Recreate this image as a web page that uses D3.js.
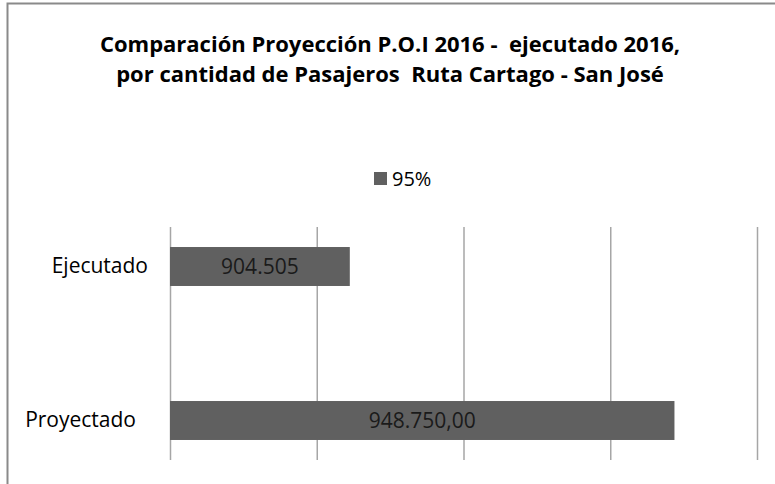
<!DOCTYPE html>
<html lang="es">
<head>
    <meta charset="UTF-8">
    <title>Comparación Proyección P.O.I 2016</title>
    <style>
        body {
            margin: 0;
            background: #ffffff;
            font-family: "Open Sans", sans-serif;
        }
    </style>
</head>
<body>
    <svg id="chart" width="775" height="484"></svg>
    <script src="https://d3js.org/d3.v7.min.js"></script>
    <script>
        // data
        const categories = ["Ejecutado", "Proyectado"];
        const values = [904505, 948750];
        const valueLabels = ["904.505", "948.750,00"];
        const seriesName = "95%";
        const titleLines = [
            "Comparación Proyección P.O.I 2016 -  ejecutado 2016,",
            "por cantidad de Pasajeros  Ruta Cartago - San José"
        ];
        const xTicks = [880000, 900000, 920000, 940000, 960000];

        const svg = d3.select("#chart");
        const width = 775, height = 484;
        const plot = { left: 170, right: 757, top: 227, bottom: 460 };
        const font = "'Open Sans', sans-serif";

        // chart border (box runs past right & bottom of picture)
        svg.append("rect")
            .attr("x", 7.5).attr("y", 3.5)
            .attr("width", width + 20).attr("height", height + 20)
            .attr("fill", "none")
            .attr("stroke", "#8a8a8a")
            .attr("stroke-width", 2);

        // title
        svg.append("g").selectAll("text")
            .data(titleLines)
            .join("text")
            .attr("x", 390)
            .attr("y", (d, i) => 52 + i * 30)
            .attr("text-anchor", "middle")
            .attr("font-size", 22)
            .attr("font-weight", "bold")
            .attr("font-family", font)
            .attr("fill", "#000")
            .style("white-space", "pre")
            .text(d => d);

        // legend
        const legend = svg.append("g").attr("transform", "translate(374,172)");
        legend.append("rect")
            .attr("width", 13).attr("height", 13)
            .attr("fill", "#606060");
        legend.append("text")
            .attr("x", 18).attr("y", 13.5)
            .attr("font-size", 20)
            .attr("font-family", font)
            .attr("fill", "#000")
            .text(seriesName);

        const x = d3.scaleLinear()
            .domain([xTicks[0], xTicks[xTicks.length - 1]])
            .range([plot.left, plot.right]);

        const y = d3.scaleBand()
            .domain(categories)
            .range([plot.top, plot.bottom])
            .paddingInner(0.747)
            .paddingOuter(0.13);

        // vertical gridlines
        svg.append("g")
            .attr("transform", `translate(0,${plot.bottom})`)
            .call(d3.axisBottom(x).tickValues(xTicks).tickSize(-(plot.bottom - plot.top)).tickFormat(""))
            .call(g => g.select(".domain").remove())
            .call(g => g.selectAll(".tick line").attr("stroke", "#a6a6a6").attr("stroke-width", 1.5));

        // bars
        const data = categories.map((c, i) => ({ cat: c, value: values[i], label: valueLabels[i] }));

        svg.append("g").selectAll("rect")
            .data(data)
            .join("rect")
            .attr("x", x(xTicks[0]))
            .attr("y", d => y(d.cat))
            .attr("width", d => x(d.value) - x(xTicks[0]))
            .attr("height", y.bandwidth())
            .attr("fill", "#606060");

        // value labels
        svg.append("g").selectAll("text")
            .data(data)
            .join("text")
            .attr("x", d => (x(xTicks[0]) + x(d.value)) / 2)
            .attr("y", d => y(d.cat) + y.bandwidth() / 2)
            .attr("dy", "0.36em")
            .attr("text-anchor", "middle")
            .attr("font-size", 21)
            .attr("font-family", font)
            .attr("fill", "#1a1a1a")
            .text(d => d.label);

        // category labels (second one sits a bit further left in the original)
        svg.append("g")
            .attr("transform", `translate(${plot.left - 22},0)`)
            .call(d3.axisLeft(y).tickSize(0).tickPadding(0))
            .call(g => g.select(".domain").remove())
            .call(g => g.selectAll("text")
                .attr("font-size", 21)
                .attr("font-family", font)
                .attr("fill", "#000")
                .attr("dx", (d, i) => i === 1 ? -12 : 0));
    </script>
</body>
</html>
